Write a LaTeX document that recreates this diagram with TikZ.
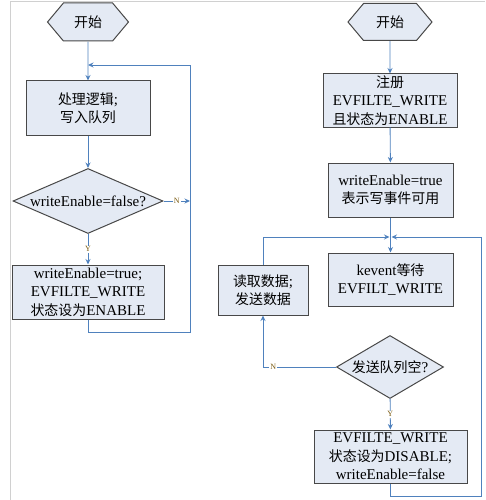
\documentclass[tikz,border=0pt]{standalone}
\usepackage{fontspec}
\setmainfont{Liberation Serif}
\newfontfamily\cjk[Scale=0.93]{Noto Sans CJK SC}
\usetikzlibrary{shapes.geometric, shapes.symbols, arrows.meta, calc}
\definecolor{boxfill}{HTML}{E4EAF4}
\definecolor{boxline}{HTML}{484848}
\definecolor{flowline}{HTML}{4F81BD}
\definecolor{yntext}{HTML}{7A5A10}
\definecolor{framegray}{HTML}{D0D0D0}

\begin{document}
\begin{tikzpicture}[x=1pt,y=-1pt,inner sep=2pt,
    font=\fontsize{15}{18.5}\selectfont,
    >={Stealth[length=5.5pt,width=5pt]},
    startbox/.style={draw=boxline,fill=boxfill,line width=1pt,shape=signal,
        signal to=west and east,signal pointer angle=100,inner sep=0pt},
    procbox/.style={draw=boxline,fill=boxfill,line width=1pt,rectangle,
        align=center,inner sep=0pt},
    testbox/.style={draw=boxline,fill=boxfill,line width=1pt,diamond,inner sep=0pt},
    flow/.style={draw=flowline,line width=0.9pt},
    yn/.style={font=\fontsize{8}{9}\selectfont,text=yntext,fill=white,inner sep=1pt}]
    \useasboundingbox (0,0) rectangle (485,500);
    \draw [framegray,line width=1pt] (10,500) -- (10,2) -- (485,2);
    % left flow
    \node [startbox,minimum width=81pt,minimum height=38pt] (L0) at (88,22) {{\cjk 开始}};
    \node [procbox,minimum width=124pt,minimum height=54pt] (L1) at (88,108)
        {{\cjk 处理逻辑};\\{\cjk 写入队列}};
    \node [testbox,aspect=2.3,minimum width=150pt,minimum height=65pt] (L2) at (88,201)
        {writeEnable=false?};
    \node [procbox,minimum width=152pt,minimum height=54pt] (L3) at (88,292)
        {writeEnable=true;\\EVFILTE\_WRITE\\{\cjk 状态设为}ENABLE};
    \coordinate (Lj) at (88,65);
    \coordinate (Lr) at (190,65);
    \coordinate (Ln) at (190,201);
    \draw [flow,->] (L0) -- (L1);
    \draw [flow,->] (L1) -- (L2);
    \draw [flow,->] (L2) -- node [yn] {Y} (L3);
    \draw [flow,->] (L2.east) -- node [yn] {N} (Ln);
    \draw [flow,->] (L3.south) -- ++(0,13) -| (Lr) -- (Lj);
    % right flow
    \node [startbox,minimum width=84pt,minimum height=37pt] (R0) at (390,22) {{\cjk 开始}};
    \node [procbox,minimum width=134pt,minimum height=53pt] (R1) at (390,100.5)
        {{\cjk 注册}\\EVFILTE\_WRITE\\{\cjk 且状态为}ENABLE};
    \node [procbox,minimum width=125pt,minimum height=54pt] (R2) at (390.5,190)
        {writeEnable=true\\{\cjk 表示写事件可用}};
    \node [procbox,minimum width=125pt,minimum height=53pt] (R3) at (390.5,279.5)
        {kevent{\cjk 等待}\\EVFILT\_WRITE};
    \node [testbox,aspect=1.7,minimum width=107pt,minimum height=63pt] (R4) at (390,367)
        {{\cjk 发送队列空}?};
    \node [procbox,minimum width=90pt,minimum height=50pt] (R5) at (263,290)
        {{\cjk 读取数据};\\{\cjk 发送数据}};
    \node [procbox,minimum width=153pt,minimum height=53pt] (R6) at (390.5,456.5)
        {EVFILTE\_WRITE\\{\cjk 状态设为}DISABLE;\\writeEnable=false};
    \coordinate (Rj) at (390.5,237);
    \coordinate (Rr) at (481,237);
    \draw [flow,->] (R0) -- (R1);
    \draw [flow,->] (R1) -- (R2);
    \draw [flow,->] (R2.south) -- (R3.north);
    \draw [flow,->,shorten >=1pt] (R5.north) |- (Rj);
    \draw [flow,->,shorten >=1pt] (R6.south) -- ++(0,13) -| (Rr) -- (Rj);
    \draw [flow,->] (R4.west) -| node [yn,pos=0.43] {N} (R5.south);
    \draw [flow,->] (R4) -- node [yn] {Y} (R6);
\end{tikzpicture}
\end{document}
